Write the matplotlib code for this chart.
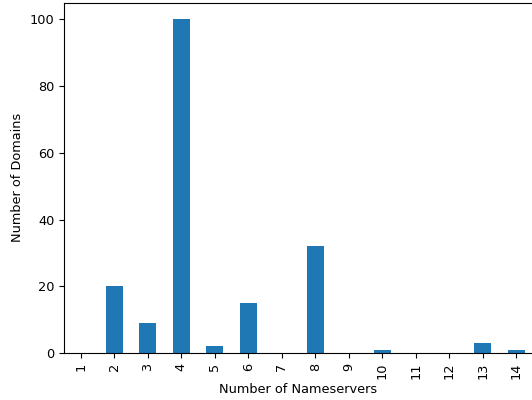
import matplotlib
matplotlib.use("Agg")
import matplotlib.pyplot as plt
import pandas as pd

nameservers = [1, 2, 3, 4, 5, 6, 7, 8, 9, 10, 11, 12, 13, 14]
domains = [0, 20, 9, 100, 2, 15, 0, 32, 0, 1, 0, 0, 3, 1]

plt.rcParams["font.size"] = 9.3

serie = pd.Series(domains, index=nameservers)

fig = plt.figure(figsize=(5.32, 4.0), dpi=100)
ax = fig.add_axes([64 / 532, 47 / 400, 469 / 532, 350.4 / 400])
serie.plot(kind="bar", ax=ax, color="#1f77b4")
ax.set_xlabel("Number of Nameservers", labelpad=3)
ax.set_ylabel("Number of Domains")

fig.savefig("out.png", dpi=100)
